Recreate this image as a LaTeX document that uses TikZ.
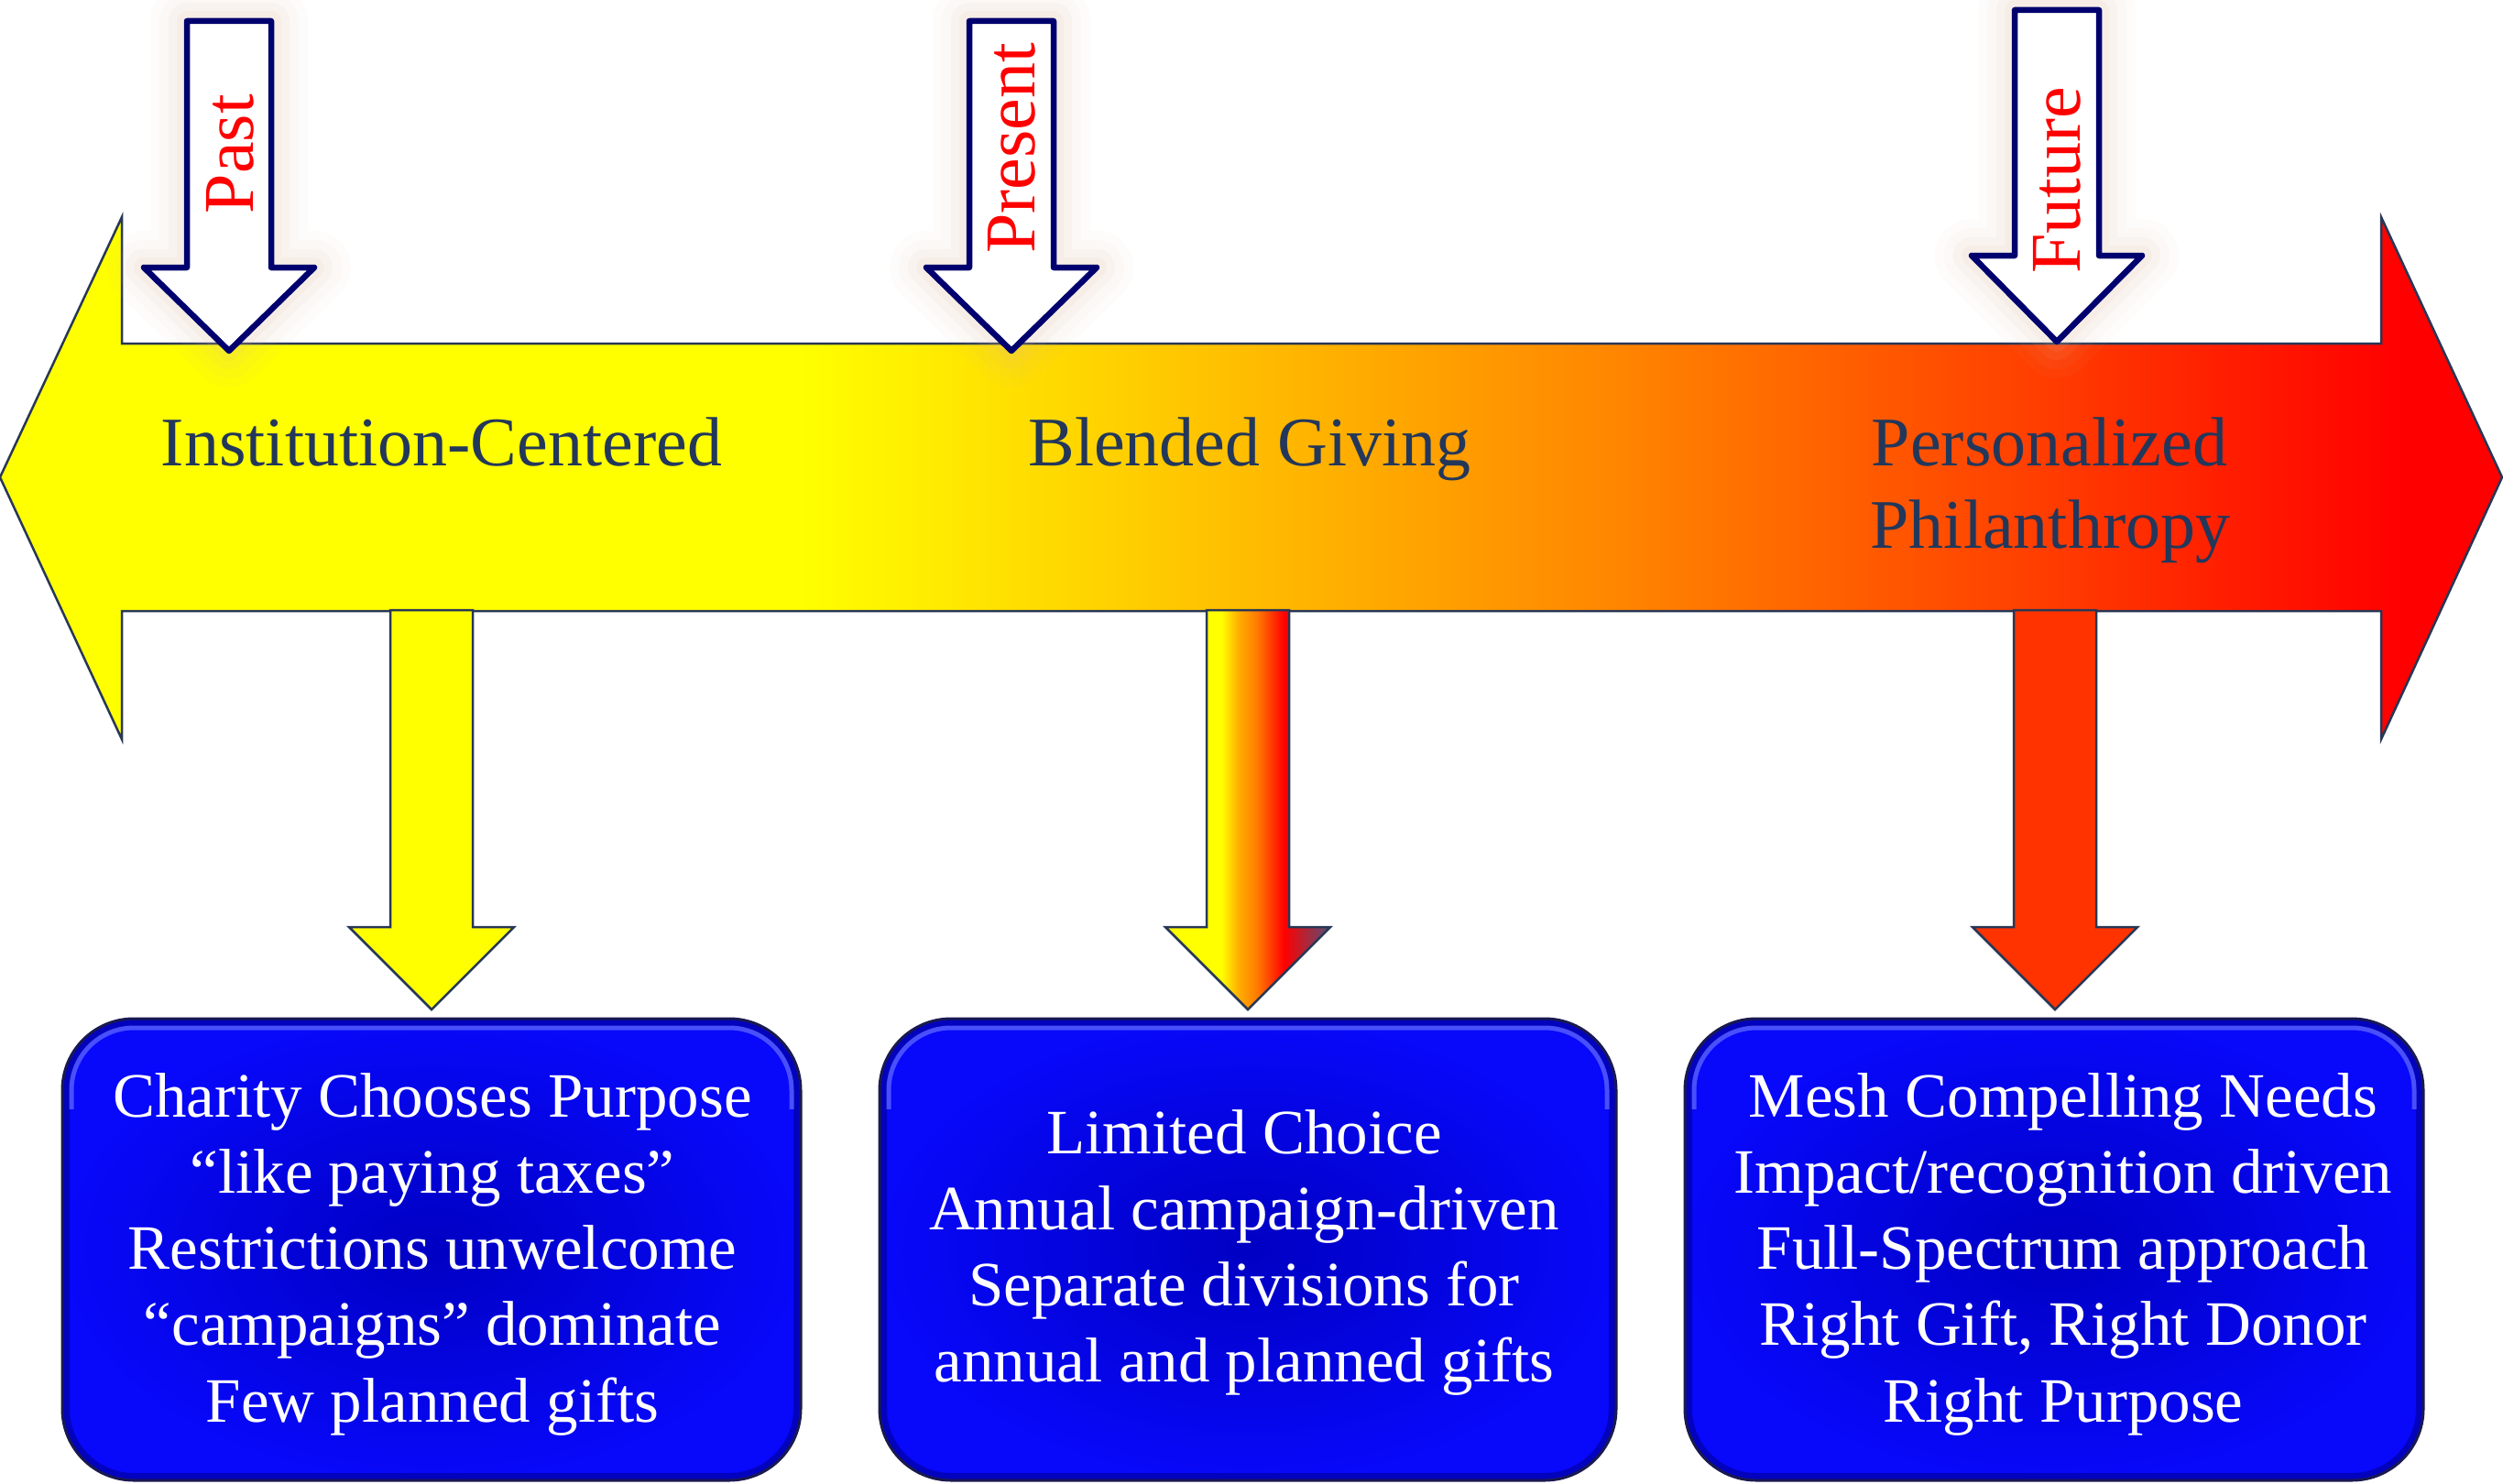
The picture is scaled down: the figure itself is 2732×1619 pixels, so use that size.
\documentclass[tikz,border=0pt]{standalone}
\usepackage{fontspec}
\setmainfont{Liberation Serif}
\definecolor{slateA}{RGB}{40,55,85}
\definecolor{navyA}{RGB}{0,0,110}
\definecolor{textdark}{RGB}{35,55,90}
\definecolor{orangeA}{RGB}{255,136,0}
\definecolor{orangeB}{RGB}{255,120,0}
\definecolor{goldB}{RGB}{255,176,0}
\definecolor{redA}{RGB}{255,0,0}
\definecolor{yellowA}{RGB}{255,255,0}
\definecolor{tipgray}{RGB}{85,80,120}
\definecolor{arrowred}{RGB}{255,51,0}
\definecolor{boxblue}{RGB}{8,8,250}
\definecolor{boxinner}{RGB}{0,0,195}
\definecolor{boxdeep}{RGB}{0,0,150}
\definecolor{boxhi}{RGB}{100,110,255}
\definecolor{boxrim}{RGB}{25,25,80}
\definecolor{glowc}{RGB}{225,185,160}
\pgfdeclarehorizontalshading{bigshade}{100bp}{color(0bp)=(yellowA); color(41bp)=(yellowA); color(57bp)=(orangeA); color(73bp)=(redA); color(100bp)=(redA)}
\pgfdeclarehorizontalshading{midshade}{100bp}{color(0bp)=(yellowA); color(42bp)=(yellowA); color(47bp)=(goldB); color(53bp)=(orangeB); color(61bp)=(redA); color(75bp)=(tipgray); color(100bp)=(tipgray)}
\newcommand\dnarrow[2]{%
  \draw[bigline,#2] (#1-45,666) -- (#1+45,666) -- (#1+45,1012) -- (#1+90,1012) -- (#1,1102) -- (#1-90,1012) -- (#1-45,1012) -- cycle;}
\newcommand\timearrow[4]{%
  \foreach \gw/\go in {80/0.04,60/0.05,40/0.07,22/0.1}{%
    \draw[draw=glowc, line width=\gw pt, opacity=\go, line join=round] (#1-46,#2) -- (#1+46,#2) -- (#1+46,#3) -- (#1+93,#3) -- (#1,#4) -- (#1-93,#3) -- (#1-46,#3) -- cycle;}
  \draw[whitearrow] (#1-46,#2) -- (#1+46,#2) -- (#1+46,#3) -- (#1+93,#3) -- (#1,#4) -- (#1-93,#3) -- (#1-46,#3) -- cycle;}
\newcommand\bluebox[2]{%
  \begin{scope}
    \clip[rounded corners=78pt] (#1,1112) rectangle (#2,1616);
    \shade[inner color=boxinner, outer color=boxblue] (#1,1112) rectangle (#2,1616);
    \draw[rounded corners=78pt, line width=16pt, draw=boxdeep, opacity=0.6] (#1,1112) rectangle (#2,1616);
    \clip (#1,1100) rectangle (#2,1210);
    \draw[rounded corners=68pt, line width=5pt, draw=boxhi, opacity=0.7] (#1+10,1122) rectangle (#2-10,1606);
  \end{scope}
  \draw[rounded corners=78pt, line width=3pt, draw=boxrim] (#1,1112) rectangle (#2,1616);}
\begin{document}
\begin{tikzpicture}[x=1pt,y=-1pt,
  bigline/.style={draw=slateA, line width=2.5pt, line join=miter},
  whitearrow/.style={fill=white, draw=navyA, line width=6.5pt, line join=round},
  toplabel/.style={text=textdark, font=\fontsize{76}{90}\selectfont, anchor=base, inner sep=0pt},
  redlabel/.style={text=redA, font=\fontsize{78}{90}\selectfont, rotate=90, inner sep=0pt},
  boxtext/.style={text=white, font=\fontsize{69}{83}\selectfont, anchor=base, inner sep=0pt}]
\useasboundingbox (0,0) rectangle (2732,1619);
\fill[white] (0,0) rectangle (2732,1619);

% main timeline arrow
\shade[shading=bigshade, bigline] (0,521) -- (133,237) -- (133,375) -- (2599,375) -- (2599,237) -- (2731,521) -- (2599,807) -- (2599,667) -- (133,667) -- (133,807) -- cycle;

% down arrows
\dnarrow{471}{fill=yellowA}
\dnarrow{1362}{shade, shading=midshade}
\dnarrow{2243}{fill=arrowred}

% blue boxes
\bluebox{68}{874}
\bluebox{960}{1764}
\bluebox{1839}{2645}

% time arrows
\timearrow{250}{23}{292}{383}
\timearrow{1104}{23}{292}{383}
\timearrow{2245}{11}{279}{373}

\node[redlabel] (past) at (251,168) {Past};
\node[redlabel] (present) at (1104,162) {Present};
\node[redlabel] (future) at (2245,197) {Future};

\node[toplabel] (inst) at (482,508) {Institution-Centered};
\node[toplabel] (blend) at (1364,508) {Blended Giving};
\node[toplabel] (pers) at (2237,508) {Personalized};
\node[toplabel] (phil) at (2238,598) {Philanthropy};

\node[boxtext] (b1a) at (472,1219) {Charity Chooses Purpose};
\node[boxtext] (b1b) at (472,1302) {“like paying taxes”};
\node[boxtext] (b1c) at (472,1385) {Restrictions unwelcome};
\node[boxtext] (b1d) at (472,1468) {“campaigns” dominate};
\node[boxtext] (b1e) at (472,1552) {Few planned gifts};

\node[boxtext] (b2a) at (1358,1259) {Limited Choice};
\node[boxtext] (b2b) at (1358,1342) {Annual campaign-driven};
\node[boxtext] (b2c) at (1358,1425) {Separate divisions for};
\node[boxtext] (b2d) at (1358,1508) {annual and planned gifts};

\node[boxtext] (b3a) at (2252,1219) {Mesh Compelling Needs};
\node[boxtext] (b3b) at (2252,1302) {Impact/recognition driven};
\node[boxtext] (b3c) at (2252,1385) {Full-Spectrum approach};
\node[boxtext] (b3d) at (2252,1468) {Right Gift, Right Donor};
\node[boxtext] (b3e) at (2252,1552) {Right Purpose};
\end{tikzpicture}
\end{document}
